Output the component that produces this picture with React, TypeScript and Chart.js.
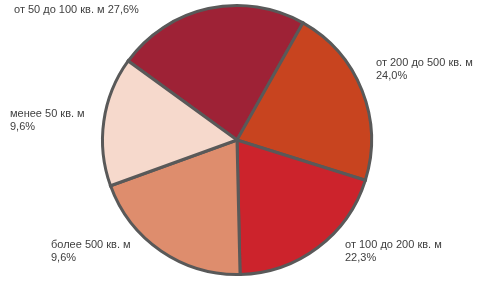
import React, { useEffect, useRef } from "react";
import { Chart, registerables } from "chart.js";

Chart.register(...registerables);

const categories = [
  "от 50 до 100 кв. м",
  "от 200 до 500 кв. м",
  "от 100 до 200 кв. м",
  "более 500 кв. м",
  "менее 50 кв. м",
];
// printed shares
const shareLabels = ["27,6%", "24,0%", "22,3%", "9,6%", "9,6%"];
// slice sizes as drawn (degrees of arc)
const sliceValues = [83.4, 78.0, 71.3, 71.4, 55.9];
const sliceColors = ["#9e2236", "#c8441f", "#cc232c", "#de8d6d", "#f6d9cc"];

// label layout: [x, baseline y, single line?]
const labelLayout: [number, number, boolean][] = [
  [14, 13, true],
  [376, 66, false],
  [345, 248, false],
  [51, 248, false],
  [10, 117, false],
];

const labelPlugin = {
  id: "sliceLabels",
  afterDraw(chart: any) {
    const ctx = chart.ctx;
    ctx.save();
    ctx.font = "11px 'Liberation Sans', Arial, sans-serif";
    ctx.fillStyle = "#404040";
    ctx.textAlign = "left";
    ctx.textBaseline = "alphabetic";
    categories.forEach((c, i) => {
      const [x, y, single] = labelLayout[i];
      if (single) {
        ctx.fillText(c + " " + shareLabels[i], x, y);
      } else {
        ctx.fillText(c, x, y);
        ctx.fillText(shareLabels[i], x, y + 13);
      }
    });
    ctx.restore();
  },
};

export default function App() {
  const ref = useRef<HTMLCanvasElement>(null);
  useEffect(() => {
    document.body.style.margin = "0";
    const chart = new Chart(ref.current!, {
      type: "pie",
      data: {
        labels: categories,
        datasets: [
          {
            data: sliceValues,
            backgroundColor: sliceColors,
            borderColor: "#595959",
            borderWidth: 3,
            borderJoinStyle: "miter",
          } as any,
        ],
      },
      options: {
        responsive: false,
        animation: false,
        devicePixelRatio: 1,
        rotation: -54,
        radius: 134.5,
        layout: { padding: { left: 0, right: 14, top: 0, bottom: 23 } },
        plugins: {
          legend: { display: false },
          tooltip: { enabled: false },
        },
      },
      plugins: [labelPlugin],
    });
    return () => chart.destroy();
  }, []);
  return (
    <div style={{ width: 488, height: 303, background: "#fff" }}>
      <canvas ref={ref} width={488} height={303} style={{ display: "block" }} />
    </div>
  );
}
